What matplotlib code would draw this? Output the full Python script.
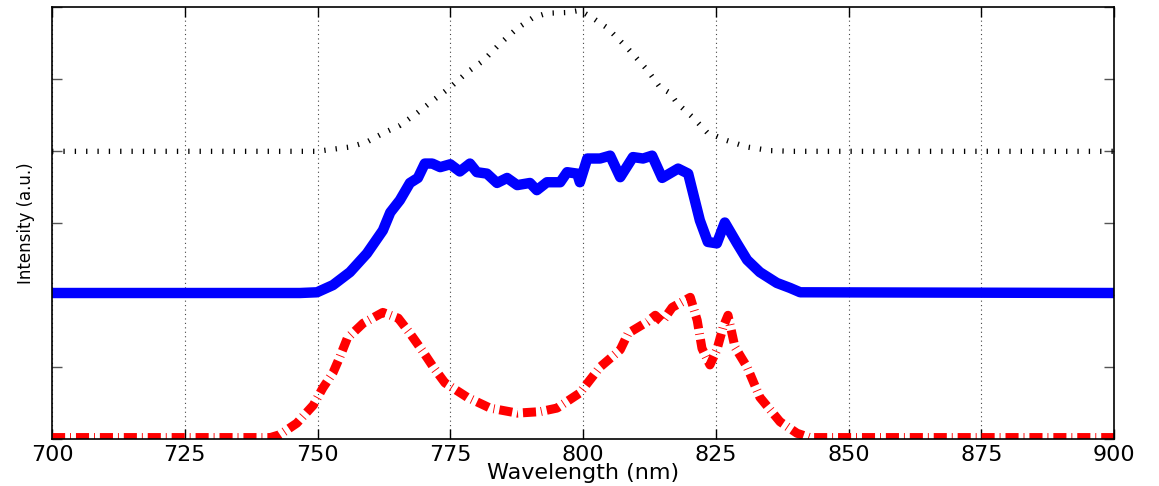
import matplotlib.pyplot as plt

# wavelength axis ticks
x_ticks = [700, 725, 750, 775, 800, 825, 850, 875, 900]

# top trace (black, offset 4)
black_wl = [700, 749.9, 756.1, 759.3, 762.3, 765.5, 768.7, 771.8, 775.0, 778.2, 781.2,
            784.4, 787.6, 790.6, 793.2, 797.0, 799.4, 801.9, 804.5, 808.3, 812.1,
            814.5, 816.4, 817.7, 820.7, 823.4, 827.1, 830.9, 835.2, 839.5, 900]
black_int = [4.0, 4.0, 4.06, 4.13, 4.25, 4.36, 4.53, 4.71, 4.89, 5.10, 5.26,
             5.50, 5.71, 5.86, 5.92, 5.93, 5.96, 5.85, 5.72, 5.44, 5.13,
             4.89, 4.81, 4.67, 4.47, 4.26, 4.15, 4.06, 4.01, 4.0, 4.0]

# middle trace (blue, offset 2)
blue_wl = [700, 746.7, 749.9, 752.9, 756.1, 759.3, 762.3, 763.7, 765.5, 767.4, 768.9,
           770.2, 771.6, 773.1, 775.0, 776.8, 778.7, 780.0, 781.9, 783.8, 785.7,
           787.6, 790.0, 791.3, 793.2, 795.7, 797.0, 798.9, 799.4, 800.8, 803.2,
           805.1, 807.0, 809.4, 811.3, 813.0, 814.9, 817.9, 819.8, 822.0, 823.5,
           825.2, 826.7, 829.0, 830.9, 833.3, 836.5, 839.0, 840.9, 900]
blue_int = [2.03, 2.03, 2.04, 2.14, 2.32, 2.58, 2.90, 3.15, 3.32, 3.56, 3.63,
            3.83, 3.83, 3.78, 3.82, 3.72, 3.83, 3.71, 3.69, 3.56, 3.63,
            3.53, 3.56, 3.46, 3.57, 3.57, 3.71, 3.69, 3.57, 3.90, 3.90,
            3.94, 3.64, 3.92, 3.90, 3.94, 3.63, 3.76, 3.69, 3.04, 2.74,
            2.72, 3.01, 2.72, 2.49, 2.32, 2.17, 2.10, 2.04, 2.03]

# bottom trace (red, offset 0)
red_wl = [700, 741.1, 742.9, 746.1, 749.2, 751.0, 752.9, 754.2, 755.6, 758.6, 762.3,
          765.2, 767.4, 769.9, 771.8, 774.0, 778.2, 782.5, 787.6, 791.9, 795.1,
          799.4, 803.2, 807.0, 808.5, 812.1, 813.6, 814.9, 816.8, 820.2, 821.5,
          822.4, 823.9, 825.2, 826.4, 827.3, 828.6, 830.9, 833.3, 837.1, 840.3,
          842.7, 900]
red_int = [0.02, 0.02, 0.06, 0.22, 0.47, 0.71, 0.92, 1.14, 1.40, 1.61, 1.76,
           1.68, 1.47, 1.21, 1.00, 0.78, 0.58, 0.43, 0.36, 0.38, 0.43,
           0.64, 1.00, 1.24, 1.47, 1.63, 1.72, 1.63, 1.83, 1.97, 1.65,
           1.26, 1.03, 1.24, 1.56, 1.72, 1.28, 1.00, 0.58, 0.24, 0.08,
           0.02, 0.02]

fig = plt.figure(figsize=(11.59, 4.86), dpi=100)
ax = fig.add_axes([0.0449, 0.0967, 0.9163, 0.8879])

ax.plot(red_wl, red_int, color='red', lw=6.5, linestyle=(0, (1.45, 0.55, 0.1, 0.55)))
ax.plot(blue_wl, blue_int, color='blue', lw=7.5, solid_capstyle='round', solid_joinstyle='round')
ax.plot(black_wl, black_int, color='black', lw=3.8, linestyle=(0, (0.25, 1.9)))

ax.set_xlim(700, 900)
ax.set_ylim(0, 6)
ax.set_xticks(x_ticks)
ax.set_xticklabels([str(t) for t in x_ticks], fontsize=16)
ax.set_yticks(range(7))
ax.set_yticklabels([])
ax.tick_params(direction='in', length=7, width=1, top=True, right=True, pad=4)
ax.tick_params(axis='y', colors='#555555')
ax.xaxis.grid(True, linestyle=(0, (1, 3)), color='#444444', lw=0.8)

for s in ax.spines.values():
    s.set_linewidth(1.2)

ax.set_xlabel('Wavelength (nm)', fontsize=16, labelpad=-1)
ax.set_ylabel('Intensity (a.u.)', fontsize=12, family=['Liberation Sans Narrow', 'DejaVu Sans'],
              labelpad=8)

fig.savefig('out.png', dpi=100)
